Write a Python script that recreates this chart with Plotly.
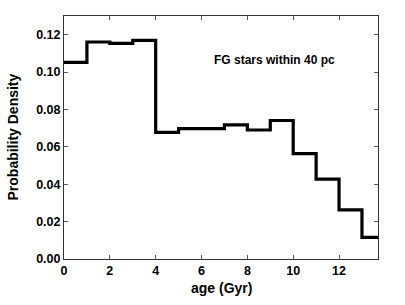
import plotly.graph_objects as go

bin_edges = [0, 1, 2, 3, 4, 5, 6, 7, 8, 9, 10, 11, 12, 13, 13.7]
density = [0.1052, 0.1161, 0.1154, 0.1170, 0.0677, 0.0697, 0.0698, 0.0718,
           0.0690, 0.0741, 0.0564, 0.0427, 0.0263, 0.0116]
x_ticks = [0, 2, 4, 6, 8, 10, 12]
y_ticks = [0.0, 0.02, 0.04, 0.06, 0.08, 0.10, 0.12]
y_tick_labels = ["0.00", "0.02", "0.04", "0.06", "0.08", "0.10", "0.12"]

ys = density + [density[-1]]

fig = go.Figure()
fig.add_trace(go.Scatter(x=bin_edges, y=ys, mode="lines", line_shape="hv",
                         line=dict(color="black", width=3.2), showlegend=False,
                         hoverinfo="skip"))

font_family = "Liberation Sans, Arial, sans-serif"
fig.update_layout(
    width=405, height=305,
    margin=dict(l=64, r=27, t=16, b=46),
    paper_bgcolor="white", plot_bgcolor="white",
    font=dict(family=font_family, color="black"),
    xaxis=dict(range=[0, 13.7], tickvals=x_ticks, ticks="inside", ticklen=4,
               tickcolor="#555", showline=True, linecolor="#333", linewidth=1,
               mirror="ticks", showgrid=False, zeroline=False, automargin=False,
               tickfont=dict(size=12.5, family=font_family, weight="bold")),
    yaxis=dict(range=[0, 0.13], tickvals=y_ticks, ticktext=y_tick_labels,
               ticks="inside", ticklen=4, tickcolor="#555", showline=True,
               linecolor="#333", linewidth=1, mirror="ticks", showgrid=False,
               zeroline=False, automargin=False,
               tickfont=dict(size=12.5, family=font_family, weight="bold")),
    annotations=[
        dict(x=9.17, y=0.1066, xref="x", yref="y", showarrow=False,
             text="<b>FG stars within 40 pc</b>",
             font=dict(size=12, family=font_family, color="black")),
        dict(x=0, y=0.5, xref="paper", yref="paper", showarrow=False,
             xanchor="center", yanchor="middle", xshift=-52, textangle=-90,
             text="<b>Probability Density</b>",
             font=dict(size=14, family=font_family, color="black")),
        dict(x=0.5, y=0, xref="paper", yref="paper", showarrow=False,
             xanchor="center", yanchor="middle", yshift=-29,
             text="<b>age (Gyr)</b>",
             font=dict(size=14, family=font_family, color="black")),
    ],
)

fig.write_html("out.html", config={"displayModeBar": False},
               post_script="document.body.style.margin='0';document.body.style.overflow='hidden';")
